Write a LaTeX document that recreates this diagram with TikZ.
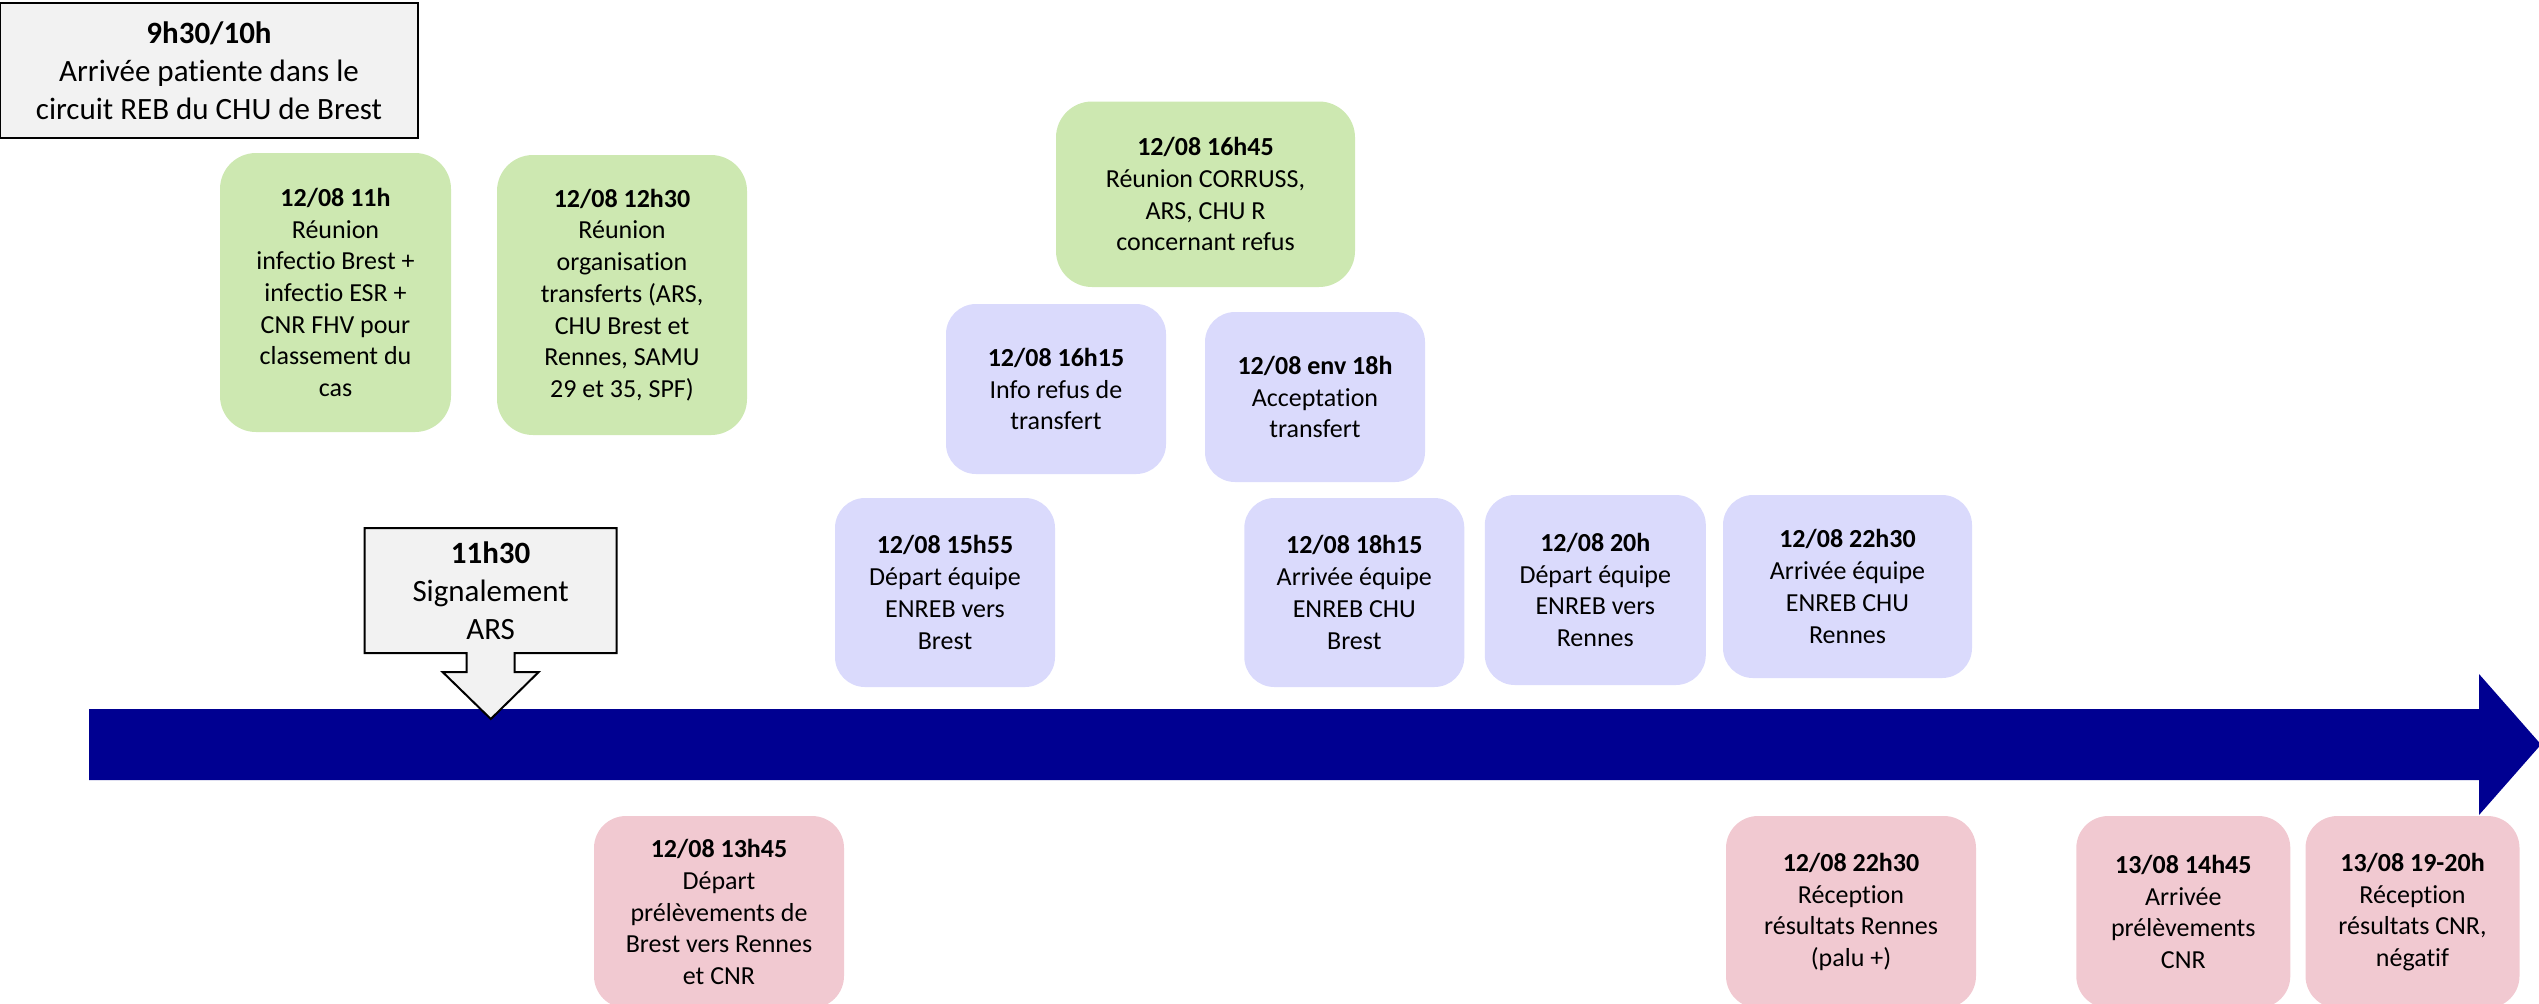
\documentclass[tikz,border=0pt]{standalone}
\usepackage{fontspec}
\setmainfont{Carlito}[Ligatures=NoCommon]
\usepackage{tikz}
\definecolor{meetgreen}{HTML}{CDE8B1}
\definecolor{teamblue}{HTML}{DADAFC}
\definecolor{labpink}{HTML}{F1C9D1}
\definecolor{boxgray}{HTML}{F2F2F2}
\definecolor{linenavy}{HTML}{000091}
\newcommand{\evfont}{\fontsize{13}{15.85}\selectfont}
\newcommand{\bigfont}{\fontsize{15.5}{19}\selectfont}
\tikzstyle{ev} = [rectangle, align=center, inner sep=0pt, font=\evfont]
\tikzstyle{meet} = [ev, rounded corners=18pt, fill=meetgreen]
\tikzstyle{team} = [ev, rounded corners=15pt, fill=teamblue]
\tikzstyle{lab} = [ev, rounded corners=16pt, fill=labpink]
\tikzstyle{firstbox} = [rectangle, align=center, inner sep=0pt, font=\bigfont, draw=black, line width=1.4pt, fill=boxgray]

\begin{document}
\begin{tikzpicture}[x=0.5pt, y=-0.5pt]
	\useasboundingbox (0,0) rectangle (2539,1003);
	\clip (0,0) rectangle (2539,1003);
	\node[firstbox, minimum width=209pt, minimum height=67.5pt] (arrivee) at (209,70.5)
		{\textbf{9h30/10h}\\Arrivée patiente dans le\\circuit REB du CHU de Brest};
	\node[meet, minimum width=115.5pt, minimum height=139.5pt] (reunion11) at (335.5,292.5)
		{\textbf{12/08 11h}\\Réunion\\infectio Brest +\\infectio ESR +\\CNR FHV pour\\classement du\\cas};
	\node[meet, minimum width=125pt, minimum height=140pt] (reunion1230) at (622,295)
		{\textbf{12/08 12h30}\\Réunion\\organisation\\transferts (ARS,\\CHU Brest et\\Rennes, SAMU\\29 et 35, SPF)};
	\node[meet, minimum width=149.5pt, minimum height=92.75pt] (reunion1645) at (1205.5,194.25)
		{\textbf{12/08 16h45}\\Réunion CORRUSS,\\ARS, CHU R\\concernant refus};
	\node[team, minimum width=110pt, minimum height=85pt] (refus) at (1056,389)
		{\textbf{12/08 16h15}\\Info refus de\\transfert};
	\node[team, minimum width=110pt, minimum height=85pt] (accept) at (1315,397)
		{\textbf{12/08 env 18h}\\Acceptation\\transfert};
	\node[team, minimum width=110pt, minimum height=94.5pt] (depbrest) at (945,592.5)
		{\textbf{12/08 15h55}\\Départ équipe\\ENREB vers\\Brest};
	\node[team, minimum width=110pt, minimum height=94.5pt] (arrbrest) at (1354.3,592.5)
		{\textbf{12/08 18h15}\\Arrivée équipe\\ENREB CHU\\Brest};
	\node[team, minimum width=110.5pt, minimum height=95pt] (deprennes) at (1595.3,590)
		{\textbf{12/08 20h}\\Départ équipe\\ENREB vers\\Rennes};
	\node[team, minimum width=124.5pt, minimum height=91.5pt] (arrrennes) at (1847.5,586.5)
		{\textbf{12/08 22h30}\\Arrivée équipe\\ENREB CHU\\Rennes};
	\fill[linenavy] (89,709) -- (2479,709) -- (2479,674) -- (2541,744.5) -- (2479,815) -- (2479,780) -- (89,780) -- cycle;
	\draw[fill=boxgray, line width=1pt] (364.5,528) -- (616.7,528) -- (616.7,653) -- (514.6,653) -- (514.6,672) -- (538.7,672)
		-- (490.8,719) -- (442.6,672) -- (466.7,672) -- (466.7,653) -- (364.5,653) -- cycle;
	\node[font=\bigfont, align=center, inner sep=0pt] (signal) at (490.6,590.5)
		{\textbf{11h30}\\Signalement\\ARS};
	\node[lab, minimum width=125pt, minimum height=96pt] (prelev) at (719,912)
		{\textbf{12/08 13h45}\\Départ\\prélèvements de\\Brest vers Rennes\\et CNR};
	\node[lab, minimum width=125pt, minimum height=96pt] (resrennes) at (1851,912)
		{\textbf{12/08 22h30}\\Réception\\résultats Rennes\\(palu +)};
	\node[lab, minimum width=107pt, minimum height=96pt] (arrcnr) at (2183.3,912)
		{\textbf{13/08 14h45}\\Arrivée\\prélèvements\\CNR};
	\node[lab, minimum width=107pt, minimum height=96pt] (rescnr) at (2412.5,912)
		{\textbf{13/08 19-20h}\\Réception\\résultats CNR,\\négatif};
\end{tikzpicture}
\end{document}
